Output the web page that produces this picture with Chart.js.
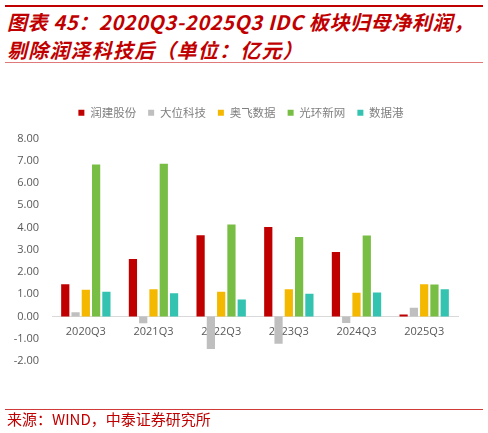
<!DOCTYPE html>
<html>
<head>
<meta charset="utf-8">
<script src="https://cdn.jsdelivr.net/npm/chart.js@4.4.0/dist/chart.umd.min.js"></script>
<style>
  body { margin: 0; background: #fff; }
  .page { position: relative; width: 488px; height: 433px; overflow: hidden; font-family: "Noto Sans CJK SC", "Noto Sans", sans-serif; }
  .rule-top { position: absolute; left: 5px; top: 5px; width: 478px; height: 2px; background: #c00000; }
  .title { position: absolute; left: 7px; top: 8px; color: #c00000; font-size: 20px; font-weight: bold; font-style: italic; line-height: 28px; letter-spacing: 0.6px; white-space: nowrap; }
  .title .l2 { letter-spacing: 1.2px; }
  .rule-title { position: absolute; left: 5px; top: 62px; width: 478px; height: 1px; background: #e07a7a; }
  .rule-foot { position: absolute; left: 5px; top: 409px; width: 478px; height: 1px; background: #d23a3a; }
  .source { position: absolute; left: 7px; top: 410px; color: #c00000; font-size: 15px; line-height: 18px; white-space: nowrap; }
  canvas { position: absolute; left: 0; top: 0; }
</style>
</head>
<body>
<div class="page">
  <div class="rule-top"></div>
  <div class="title">图表 45：2020Q3-2025Q3 IDC 板块归母净利润，<br><span class="l2">剔除润泽科技后（单位：亿元）</span></div>
  <div class="rule-title"></div>
  <canvas id="chart" width="488" height="433"></canvas>
  <div class="rule-foot"></div>
  <div class="source">来源：WIND，中泰证券研究所</div>
</div>
<script>
// Data (亿元)
const categories = ["2020Q3", "2021Q3", "2022Q3", "2023Q3", "2024Q3", "2025Q3"];
const seriesNames = ["润建股份", "大位科技", "奥飞数据", "光环新网", "数据港"];
const runjian = [1.45, 2.58, 3.65, 4.02, 2.90, 0.09];
const dawei = [0.19, -0.30, -1.46, -1.22, -0.29, 0.39];
const aofei = [1.20, 1.23, 1.11, 1.23, 1.07, 1.45];
const guanghuan = [6.83, 6.86, 4.13, 3.57, 3.64, 1.44];
const shujugang = [1.11, 1.04, 0.76, 1.02, 1.08, 1.22];
const yTicks = [-2, -1, 0, 1, 2, 3, 4, 5, 6, 7, 8];

const colors = ["#c00000", "#bfbfbf", "#f5b800", "#78be45", "#35c3b1"];
const values = [runjian, dawei, aofei, guanghuan, shujugang];

// extra room under the legend, and nudge it right to sit like the original
const legendTweak = {
  id: "legendTweak",
  beforeInit(chart) {
    const fit = chart.legend.fit;
    chart.legend.fit = function () {
      fit.bind(chart.legend)();
      this.height += 10;
    };
  },
  afterLayout(chart) {
    chart.legend.left += 12;
    chart.legend.right += 12;
  }
};

const ctx = document.getElementById("chart").getContext("2d");
new Chart(ctx, {
  type: "bar",
  data: {
    labels: categories,
    datasets: seriesNames.map((name, i) => ({
      label: name,
      data: values[i],
      backgroundColor: colors[i],
      borderWidth: 0,
      categoryPercentage: 0.76,
      barPercentage: 0.8
    }))
  },
  options: {
    responsive: false,
    animation: false,
    devicePixelRatio: 1,
    layout: {
      padding: { left: 0, right: 30, top: 95, bottom: 72 }
    },
    plugins: {
      legend: {
        position: "top",
        labels: {
          boxWidth: 6,
          boxHeight: 6,
          padding: 12,
          color: "#7f7f7f",
          font: { family: "'Noto Sans CJK SC', sans-serif", size: 11.5 }
        }
      },
      tooltip: { enabled: false }
    },
    scales: {
      x: {
        position: { y: 0 },
        grid: { display: false, drawTicks: false },
        border: { color: "#d9d9d9", width: 1 },
        ticks: {
          color: "#595959",
          padding: 9,
          maxRotation: 0,
          font: { family: "'Open Sans', sans-serif", size: 11 }
        }
      },
      y: {
        min: -2,
        max: 8,
        afterFit(scale) {
          scale.width = 52;
        },
        afterBuildTicks(scale) {
          scale.ticks = yTicks.map((v) => ({ value: v }));
        },
        grid: { display: false, drawTicks: false },
        border: { display: false },
        ticks: {
          color: "#595959",
          padding: 13,
          font: { family: "'Open Sans', sans-serif", size: 11 },
          callback: function (value) {
            return value.toFixed(2);
          }
        }
      }
    }
  },
  plugins: [legendTweak]
});
</script>
</body>
</html>
